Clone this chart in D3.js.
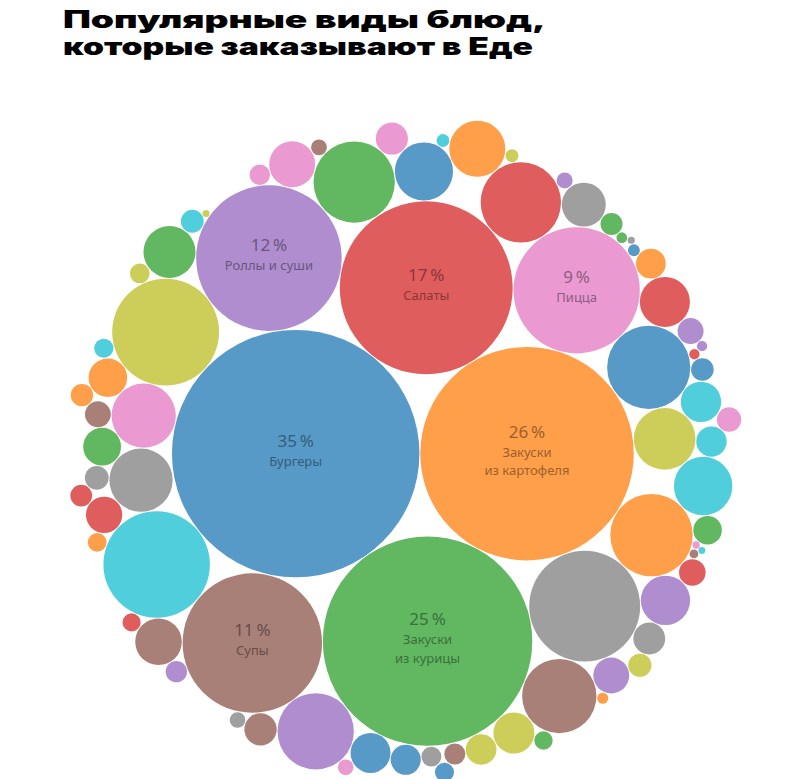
<!DOCTYPE html>
<html><head><meta charset="utf-8">
<script src="https://cdn.jsdelivr.net/npm/d3@7"></script>
<style>body{margin:0;background:#fff} svg{display:block}</style>
</head><body>
<svg id="chart" width="800" height="779"></svg>
<script>
const titleLines = ["Популярные виды блюд,", "которые заказывают в Еде"];
const categories = ["Бургеры", "Закуски\nиз картофеля", "Закуски\nиз курицы", "Салаты", "Роллы и суши", "Супы", "Пицца"];
const shares = [35, 26, 25, 17, 12, 11, 9];
// unlabeled smaller dish types (estimated from circle sizes)
const otherShares = [
  6.92, 6.42, 6.37, 3.85, 3.78, 3.68, 3.59, 3.23, 3.06, 2.27,
  2.2, 2.09, 1.87, 1.85, 1.72, 1.47, 1.36, 1.32, 1.17, 1.14,
  1.04, 0.90, 0.87, 0.85, 0.79, 0.76, 0.70, 0.68, 0.55, 0.54,
  0.53, 0.49, 0.48, 0.47, 0.46, 0.42, 0.36, 0.345, 0.34, 0.30,
  0.285, 0.27, 0.26, 0.255, 0.25, 0.24, 0.235, 0.225, 0.22, 0.205,
  0.195, 0.19, 0.18, 0.175, 0.17, 0.162, 0.158, 0.12, 0.118, 0.116,
  0.114, 0.075, 0.073, 0.06, 0.052, 0.048, 0.044, 0.043, 0.03, 0.019,
  0.018, 0.017, 0.016
];
const palette = d3.schemeCategory10;

const svg = d3.select("#chart");

// Title
const title = svg.append("g");
const titleWidths = [483, 470];
titleLines.forEach((t, i) => {
  title.append("text")
    .attr("x", 63).attr("y", 28 + i * 27)
    .attr("font-family", "Inter, 'DejaVu Sans', sans-serif")
    .attr("font-weight", 900)
    .attr("font-size", 24)
    .attr("fill", "#000")
    .attr("textLength", titleWidths[i])
    .attr("lengthAdjust", "spacingAndGlyphs")
    .text(t);
});

const items = shares.map((v, i) => ({name: categories[i], value: v, labeled: true}))
  .concat(otherShares.map(v => ({name: "", value: v, labeled: false})));

const D = 679;
const root = d3.hierarchy({children: items})
  .sum(d => d.value || 0)
  .sort((a, b) => b.value - a.value);
d3.pack().size([D, D]).padding(2.5)(root);

const g = svg.append("g").attr("transform", "translate(65,107)");
const leaves = root.leaves();
const blend = (c, a) => {
  const k = d3.rgb(c);
  return d3.rgb(k.r * a + 255 * (1 - a), k.g * a + 255 * (1 - a), k.b * a + 255 * (1 - a));
};
const node = g.selectAll("g.node").data(leaves).join("g")
  .attr("class", "node")
  .attr("transform", d => `translate(${d.x},${d.y})`);
node.append("circle")
  .attr("r", d => d.r + 0.8)
  .attr("fill", (d, i) => blend(palette[i % 10], 0.75).formatHex());

node.filter(d => d.data.labeled).each(function(d, i) {
  const sel = d3.select(this);
  const col = blend(palette[i % 10], 0.75).darker(1.4).formatHex();
  const lines = d.data.name.split("\n");
  const off = lines.length > 1 ? -9 : 0;
  sel.append("text")
    .attr("text-anchor", "middle")
    .attr("y", off - 7)
    .attr("font-family", "'Noto Sans', 'Open Sans', sans-serif")
    .attr("font-size", 17)
    .attr("fill", col)
    .text(d.data.value + "\u2009%");
  lines.forEach((l, j) => {
    sel.append("text")
      .attr("text-anchor", "middle")
      .attr("y", off + 12 + j * 18.5)
      .attr("font-family", "'Noto Sans', 'Open Sans', sans-serif")
      .attr("font-size", 13)
      .attr("fill", col)
      .text(l);
  });
});
</script>
</body></html>
